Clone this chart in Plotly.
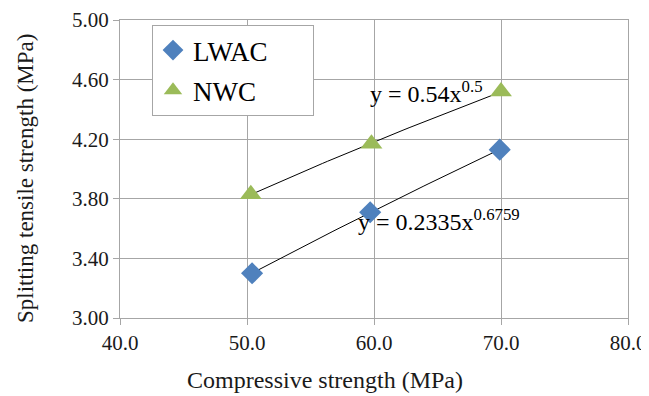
import numpy as np
import plotly.graph_objects as go

lwac_x = [50.4, 59.7, 69.9]
lwac_y = [3.30, 3.71, 4.13]
nwc_x = [50.3, 59.8, 70.0]
nwc_y = [3.83, 4.17, 4.52]
x_ticks = [40, 50, 60, 70, 80]
y_ticks = [3.0, 3.4, 3.8, 4.2, 4.6, 5.0]

def power_fit(xs, ys):
    b, ln_a = np.polyfit(np.log(xs), np.log(ys), 1)
    xx = np.linspace(min(xs), max(xs), 50)
    return xx, np.exp(ln_a) * xx ** b

fig = go.Figure()
for xs, ys in [(lwac_x, lwac_y), (nwc_x, nwc_y)]:
    fx, fy = power_fit(xs, ys)
    fig.add_trace(go.Scatter(x=fx, y=fy, mode="lines", line=dict(color="black", width=1),
                             showlegend=False, hoverinfo="skip"))

pad = "\u00a0" * 6
fig.add_trace(go.Scatter(x=lwac_x, y=lwac_y, mode="markers", name="LWAC" + pad, legendgroup="a",
                         marker=dict(symbol="diamond", size=17, color="#4f81bd")))
fig.add_trace(go.Scatter(x=nwc_x, y=nwc_y, mode="markers", name="NWC" + pad, legendgroup="b",
                         marker=dict(symbol="triangle-up", size=19, color="#9bbb59")))

# page has an 8px body margin: figure pixel = window pixel - 8
OFF = 8
W, H = 649, 396
l, r, t, b = 120 - OFF, W - (628 - OFF), 20 - OFF, H - (318 - OFF)
pw, ph = W - l - r, H - t - b

def px(xw):
    return (xw - OFF - l) / pw

def py(yw):
    return (H - b - (yw - OFF)) / ph

SERIF = "Liberation Serif"
tick_font = dict(family=SERIF, size=21, color="#1a1a1a")
axis_common = dict(showgrid=True, gridcolor="#a6a6a6", gridwidth=1, zeroline=False,
                   showline=True, mirror=True, linecolor="#a6a6a6", ticks="outside", ticklen=6,
                   tickcolor="#a6a6a6", tickfont=tick_font, automargin=False,
                   ticklabeloverflow="allow")
fig.update_layout(
    width=W, height=H,
    margin=dict(l=l, r=r, t=t, b=b),
    paper_bgcolor="white", plot_bgcolor="white",
    font=dict(family=SERIF, color="black"),
    xaxis=dict(range=[40, 80], tickvals=x_ticks, ticktext=[f"{v:.1f}" for v in x_ticks], **axis_common),
    yaxis=dict(range=[3.0, 5.0], tickvals=y_ticks, ticktext=[f"{v:.2f}" for v in y_ticks], **axis_common),
    legend=dict(x=px(152), y=py(25), xanchor="left", yanchor="top",
                bgcolor="white", bordercolor="#a6a6a6", borderwidth=1,
                font=dict(family=SERIF, size=27), itemwidth=30,
                traceorder="grouped", tracegroupgap=2),
    annotations=[
        dict(x=px(325), y=py(380), xref="paper", yref="paper", showarrow=False,
             text="Compressive strength (MPa)", font=dict(family=SERIF, size=24, color="#1a1a1a"),
             xanchor="center", yanchor="middle"),
        dict(x=px(25), y=py(179), xref="paper", yref="paper", showarrow=False, textangle=-90,
             text="Splitting tensile strength (MPa)", font=dict(family=SERIF, size=23, color="#1a1a1a"),
             xanchor="center", yanchor="middle"),
        dict(x=59.55, y=4.515, xref="x", yref="y", xanchor="left", yanchor="middle", showarrow=False,
             text="y = 0.54x<sup>0.5</sup>", font=dict(family=SERIF, size=24)),
        dict(x=58.6, y=3.66, xref="x", yref="y", xanchor="left", yanchor="middle", showarrow=False,
             text="y = 0.2335x<sup>0.6759</sup>", font=dict(family=SERIF, size=24)),
    ],
)
fig.write_html("out.html")
